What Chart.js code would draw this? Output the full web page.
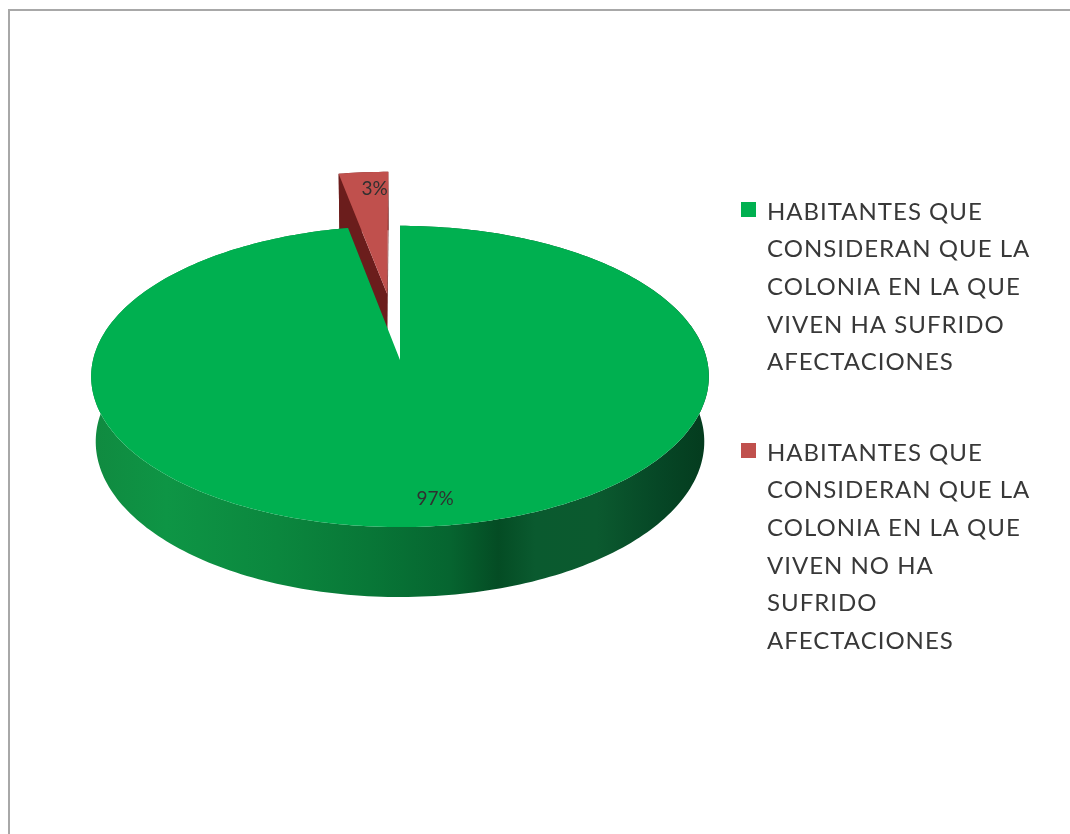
<!DOCTYPE html>
<html>
<head>
<meta charset="utf-8">
<script src="https://cdn.jsdelivr.net/npm/chart.js@4/dist/chart.umd.min.js"></script>
<style>
  html, body { margin: 0; padding: 0; background: #fff; overflow: hidden; }
  canvas { display: block; }
</style>
</head>
<body>
<canvas id="pieChart" width="1070" height="834"></canvas>
<script>
// survey answers
const categories = [
  ["HABITANTES QUE", "CONSIDERAN QUE LA", "COLONIA EN LA QUE", "VIVEN HA SUFRIDO", "AFECTACIONES"],
  ["HABITANTES QUE", "CONSIDERAN QUE LA", "COLONIA EN LA QUE", "VIVEN NO HA", "SUFRIDO", "AFECTACIONES"],
];
const percentages = [97, 3];

const sliceColors = ["#00b050", "#c0504d"];
const sideColors = ["#0a6a33", "#6b1d1c"];
// shading of the outer wall, left to right
const wallShades = [
  [
    [0, "#108a40"], [0.12, "#0e9545"], [0.3, "#0b873e"], [0.45, "#087737"],
    [0.58, "#066530"], [0.66, "#044c24"], [0.72, "#0a5a2f"], [0.82, "#0b5a2f"],
    [0.92, "#064726"], [1, "#043b1e"],
  ],
  [[0, "#8a2c2a"], [1, "#5a1716"]],
];

// 3d view
const TILT = (29 * Math.PI) / 180;
const EYE = 8; // viewer distance in radii
const DEPTH = 0.245; // pie thickness in radii

function projector(cx, cy, R) {
  const s = Math.sin(TILT);
  const c = Math.cos(TILT);
  const F = R * EYE;
  return (x, y, z) => {
    const d = EYE - (y * s + z * c);
    return [cx + (F * x) / d, cy - (F * (y * c - z * s)) / d];
  };
}

function polygon(ctx, pts, fill) {
  ctx.beginPath();
  pts.forEach((p, i) => (i ? ctx.lineTo(p[0], p[1]) : ctx.moveTo(p[0], p[1])));
  ctx.closePath();
  ctx.fillStyle = fill;
  ctx.fill();
}

function drawSlice(ctx, P, arc, R, i) {
  const a0 = arc.startAngle;
  const a1 = arc.endAngle;
  const mid = (a0 + a1) / 2;
  const off = (arc.options.offset || 0) / R;
  const ox = Math.cos(mid) * off;
  const oz = Math.sin(mid) * off;
  const n = Math.max(6, Math.ceil((a1 - a0) / 0.02));

  const rim = (y) => {
    const pts = [];
    for (let k = 0; k <= n; k++) {
      const a = a0 + ((a1 - a0) * k) / n;
      pts.push(P(ox + Math.cos(a), y, oz + Math.sin(a)));
    }
    return pts;
  };
  const top = rim(0);
  const bottom = rim(-DEPTH);

  // outer wall
  const gx0 = P(-1, 0, 0)[0];
  const gx1 = P(1, 0, 0)[0];
  const grad = ctx.createLinearGradient(gx0, 0, gx1, 0);
  wallShades[i].forEach(([t, col]) => grad.addColorStop(t, col));
  polygon(ctx, top.concat(bottom.slice().reverse()), grad);

  // cut faces, only those turned to the viewer
  const eye = [0, EYE * Math.sin(TILT), EYE * Math.cos(TILT)];
  [[a0, -1], [a1, 1]].forEach(([a, dir]) => {
    const nx = Math.cos(a + (dir * Math.PI) / 2);
    const nz = Math.sin(a + (dir * Math.PI) / 2);
    const px = ox + Math.cos(a) * 0.5;
    const pz = oz + Math.sin(a) * 0.5;
    if (nx * (eye[0] - px) + nz * (eye[2] - pz) <= 0) return;
    polygon(ctx, [
      P(ox, 0, oz),
      P(ox + Math.cos(a), 0, oz + Math.sin(a)),
      P(ox + Math.cos(a), -DEPTH, oz + Math.sin(a)),
      P(ox, -DEPTH, oz),
    ], sideColors[i]);
  });

  // top face
  polygon(ctx, [P(ox, 0, oz)].concat(top), sliceColors[i]);

  return { ox, oz, mid };
}

const pie3d = {
  id: "pie3d",
  beforeDatasetsDraw(chart) {
    const ctx = chart.ctx;
    const meta = chart.getDatasetMeta(0);
    const arcs = meta.data;
    const R = arcs[0].outerRadius;
    const P = projector(arcs[0].x, arcs[0].y, R);
    const total = percentages.reduce((a, b) => a + b, 0);

    // farthest slice first
    const order = arcs
      .map((arc, i) => {
        const mid = (arc.startAngle + arc.endAngle) / 2;
        return { arc, i, z: Math.sin(mid) * (arc.options.offset || 0) };
      })
      .sort((a, b) => a.z - b.z);

    ctx.save();
    const placed = [];
    order.forEach(({ arc, i }) => {
      placed[i] = drawSlice(ctx, P, arc, R, i);
    });

    // percentage labels
    ctx.font = "19px Lato";
    ctx.fillStyle = "#303030";
    ctx.textAlign = "center";
    ctx.textBaseline = "middle";
    placed.forEach((s, i) => {
      const pct = Math.round((percentages[i] / total) * 100) + "%";
      const pos = P(s.ox + Math.cos(s.mid) * 0.85, 0, s.oz + Math.sin(s.mid) * 0.85);
      ctx.fillText(pct, pos[0] + 8, pos[1]);
    });
    ctx.restore();
    return false;
  },
};

const LEGEND = { x: 741, y: 212, box: 15, line: 37.6, gap: 53 };

const legendBlock = {
  id: "legendBlock",
  beforeDraw(chart) {
    const ctx = chart.ctx;
    ctx.save();
    ctx.strokeStyle = "#a8a8a8";
    ctx.lineWidth = 2;
    ctx.strokeRect(9, 10, 1200, 1000);
    ctx.restore();
  },
  afterDraw(chart) {
    const ctx = chart.ctx;
    const colors = chart.data.datasets[0].backgroundColor;
    ctx.save();
    ctx.font = "24px Lato";
    ctx.letterSpacing = "1px";
    ctx.textBaseline = "middle";
    let y = LEGEND.y;
    chart.data.labels.forEach((lines, i) => {
      ctx.fillStyle = colors[i];
      ctx.fillRect(LEGEND.x, y - 10, LEGEND.box, LEGEND.box);
      ctx.fillStyle = "#383838";
      lines.forEach((t, j) => ctx.fillText(t, LEGEND.x + 26, y + j * LEGEND.line));
      y += lines.length * LEGEND.line + LEGEND.gap;
    });
    ctx.restore();
  },
};

new Chart(document.getElementById("pieChart"), {
  type: "pie",
  data: {
    labels: categories,
    datasets: [
      {
        data: percentages,
        backgroundColor: sliceColors,
        borderWidth: 0,
        offset: [0, 144],
      },
    ],
  },
  options: {
    responsive: false,
    animation: false,
    radius: 307,
    layout: { padding: { left: 93, right: 363, top: 53, bottom: 167 } },
    plugins: {
      legend: { display: false },
      tooltip: { enabled: false },
    },
  },
  plugins: [pie3d, legendBlock],
});
</script>
</body>
</html>
